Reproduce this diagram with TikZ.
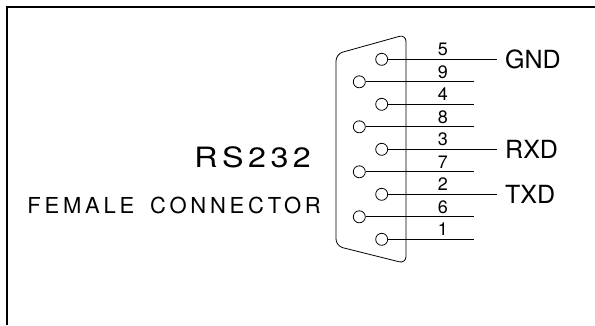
\documentclass[tikz,border=0pt]{standalone}
\usepackage{fontspec}
\setmainfont{TeX Gyre Heros}
\usetikzlibrary{positioning}

\tikzset{
  pin/.style={circle,draw,thick,minimum size=12pt,inner sep=0pt},
  wire/.style={thick},
  numlbl/.style={inner sep=0pt,anchor=base,font=\fontsize{18}{18}\selectfont},
  siglbl/.style={inner sep=0pt,anchor=west,font=\fontsize{25}{25}\selectfont}
}

\begin{document}
\begin{tikzpicture}[x=1pt,y=-1pt]
        \useasboundingbox (0,0) rectangle (595,325);
        % frame
        \draw[line width=2pt] (595,7) -- (6.5,7) -- (6.5,325);
        % shell
        \draw[thick,rounded corners=7pt] (336,54) -- (406,34.5) -- (406,263.5) -- (336,246) -- cycle;
        % pins
        \node[pin] (p5) at (381.7,59.3) {};
        \node[pin] (p9) at (359.3,81.8) {};
        \node[pin] (p4) at (381.7,104.3) {};
        \node[pin] (p8) at (359.3,126.8) {};
        \node[pin] (p3) at (381.7,149.3) {};
        \node[pin] (p7) at (359.3,171.8) {};
        \node[pin] (p2) at (381.7,194.3) {};
        \node[pin] (p6) at (359.3,216.8) {};
        \node[pin] (p1) at (381.7,239.3) {};
        % line ends
        \coordinate (e5) at (497,59.3);
        \coordinate (e9) at (474,81.8);
        \coordinate (e4) at (474,104.3);
        \coordinate (e8) at (474,126.8);
        \coordinate (e3) at (497,149.3);
        \coordinate (e7) at (474,171.8);
        \coordinate (e2) at (497,194.3);
        \coordinate (e6) at (474,216.8);
        \coordinate (e1) at (474,239.3);
        \draw[wire] (p5) -- (e5);
        \draw[wire] (p9) -- (e9);
        \draw[wire] (p4) -- (e4);
        \draw[wire] (p8) -- (e8);
        \draw[wire] (p3) -- (e3);
        \draw[wire] (p7) -- (e7);
        \draw[wire] (p2) -- (e2);
        \draw[wire] (p6) -- (e6);
        \draw[wire] (p1) -- (e1);
        % pin numbers
        \node[numlbl] (n5) at (443,55.5) {5};
        \node[numlbl] (n9) at (443,78) {9};
        \node[numlbl] (n4) at (443,100.5) {4};
        \node[numlbl] (n8) at (443,123) {8};
        \node[numlbl] (n3) at (443,145.5) {3};
        \node[numlbl] (n7) at (443,168) {7};
        \node[numlbl] (n2) at (443,190.5) {2};
        \node[numlbl] (n6) at (443,213) {6};
        \node[numlbl] (n1) at (443,235.5) {1};
        % signals
        \node[siglbl,right=8pt of e5] (gnd) {GND};
        \node[siglbl,right=8pt of e3] (rxd) {RXD};
        \node[siglbl,right=8pt of e2] (txd) {TXD};
        % title
        \node[inner sep=0pt,anchor=base east,font=\fontsize{28}{28}\selectfont\addfontfeature{FakeStretch=1.15,LetterSpace=16}] (rs) at (311,167) {RS232};
        \node[inner sep=0pt,anchor=base east,font=\fontsize{22}{22}\selectfont\addfontfeature{LetterSpace=17}] (fem) at (321,213) {FEMALE\hspace{16pt}CONNECTOR};
      \end{tikzpicture}
\end{document}
